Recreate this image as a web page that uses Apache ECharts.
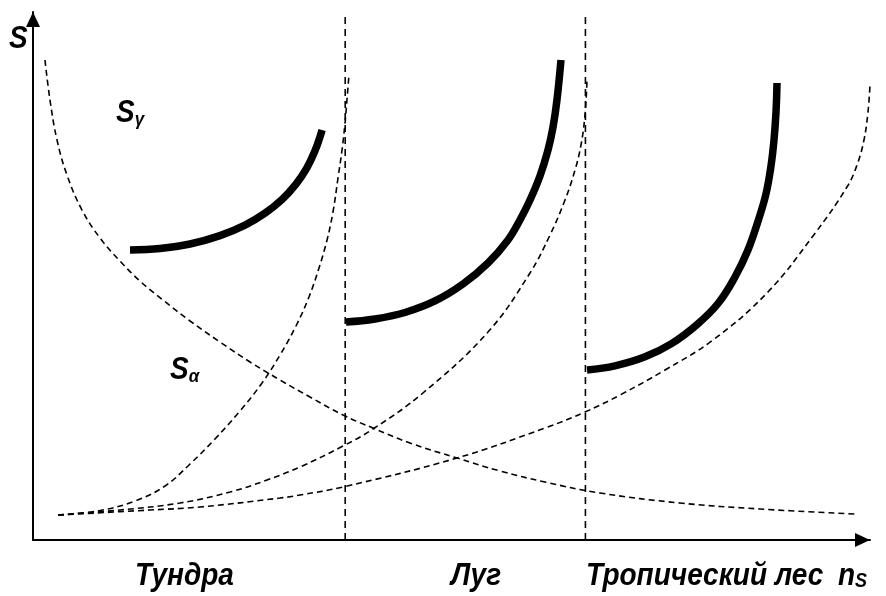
<!DOCTYPE html>
<html>
<head>
<meta charset="utf-8">
<script src="https://cdn.jsdelivr.net/npm/echarts@6/dist/echarts.min.js"></script>
<style>
  html, body { margin: 0; padding: 0; background: #fff; }
  #chart { width: 886px; height: 596px; }
</style>
</head>
<body>
<div id="chart"></div>
<script>
// Biome labels along the n_S axis and boundaries between the zones
const zoneNames = ['Тундра', 'Луг', 'Тропический лес'];
const zoneBounds = [37.3, 66.0];

// Alpha diversity (decreasing dashed curve)
const alphaCurve = [
  [1.43, 90.91], [2.03, 83.33], [2.87, 75.76], [4.06, 69.13], [5.85, 62.50],
  [8.00, 57.20], [10.39, 52.84], [12.78, 49.05], [15.53, 45.45], [18.76, 41.48],
  [22.34, 37.50], [25.93, 33.71], [29.51, 30.30], [33.09, 27.08], [37.04, 23.67],
  [40.62, 21.21], [45.04, 18.37], [50.66, 15.53], [55.79, 13.07], [61.17, 10.98],
  [67.74, 8.90], [77.30, 7.01], [86.86, 5.87], [98.21, 4.92]
];

// Rising dashed curves, one per zone
const risingTundra = [
  [2.99, 4.73], [8.00, 5.59], [12.19, 7.39], [15.77, 10.23], [18.76, 14.39],
  [21.74, 19.13], [24.73, 24.43], [27.36, 29.73], [29.51, 35.04], [31.42, 40.53],
  [32.97, 46.02], [34.17, 51.52], [35.13, 56.82], [35.84, 62.12], [36.44, 68.56],
  [36.92, 73.86], [37.28, 78.98], [37.51, 83.33], [37.75, 88.07]
];
const risingMeadow = [
  [2.99, 4.73], [10.39, 5.68], [17.56, 7.01], [23.54, 9.09], [27.96, 11.36],
  [31.90, 13.83], [37.04, 17.80], [40.62, 21.02], [46.59, 27.84], [54.36, 39.39],
  [59.38, 50.57], [61.77, 57.77], [63.56, 64.39], [64.76, 70.08], [65.47, 74.81],
  [65.95, 80.49], [66.19, 87.12]
];
const risingForest = [
  [2.99, 4.73], [13.98, 5.68], [19.95, 6.25], [29.51, 7.95], [31.90, 8.52],
  [37.04, 10.04], [50.66, 15.53], [61.17, 21.21], [65.95, 24.24], [70.13, 27.46],
  [75.51, 32.20], [81.24, 37.88], [87.69, 46.78], [93.19, 57.58], [97.25, 66.86],
  [98.45, 71.02], [99.28, 75.76], [99.76, 81.06], [100.0, 86.17]
];

// Gamma diversity (thick solid curves)
const gammaTundra = [
  [11.59, 54.92], [15.17, 55.21], [18.76, 56.06], [22.34, 57.65], [25.33, 59.64],
  [27.72, 61.91], [29.75, 64.49], [31.42, 67.40], [32.74, 70.53], [33.69, 73.71],
  [34.29, 76.36], [34.53, 77.65]
];
const gammaMeadow = [
  [37.40, 41.29], [40.86, 41.86], [44.44, 43.09], [48.03, 45.27], [51.37, 48.48],
  [54.36, 52.46], [56.75, 56.82], [58.18, 60.61], [59.38, 64.39], [60.57, 68.94],
  [61.53, 73.86], [62.13, 78.22], [62.60, 83.33], [63.08, 90.91]
];
const gammaForest = [
  [66.19, 32.20], [69.53, 32.99], [73.12, 34.70], [76.34, 37.25], [79.33, 40.80],
  [81.84, 44.79], [83.87, 49.81], [85.42, 54.92], [86.74, 60.98], [87.57, 65.53],
  [88.17, 70.83], [88.53, 75.76], [88.77, 81.06], [88.89, 86.55]
];

const FONT = '"Liberation Sans", Arial, sans-serif';
const dashed = { color: '#000', width: 1.6, type: [6, 4] };
const thick = { color: '#000', width: 7.5, cap: 'butt' };

function curve(data, style, smooth) {
  return {
    type: 'line', data: data, showSymbol: false, smooth: smooth,
    lineStyle: style, silent: true, clip: false
  };
}

const series = [
  curve(alphaCurve, dashed, 0.4),
  curve(risingTundra, dashed, 0.4),
  curve(risingMeadow, dashed, 0.4),
  curve(risingForest, dashed, 0.4),
  curve(gammaTundra, thick, 0.4),
  curve(gammaMeadow, thick, 0.4),
  curve(gammaForest, thick, 0.4)
];
zoneBounds.forEach(function (x) {
  series.push(curve([[x, 0], [x, 100]], { color: '#000', width: 1.6, type: [7, 5] }, false));
});

const axisLine = {
  show: true,
  symbol: ['none', 'triangle'],
  symbolSize: [14, 15],
  symbolOffset: [0, -7.5],
  lineStyle: { color: '#000', width: 2 }
};

// Bold italic captions, stretched slightly upward
function label(text, x, y, size) {
  return {
    type: 'text', x: x, y: y, scaleY: 1.12,
    style: { text: text, font: 'italic bold ' + size + 'px ' + FONT, fill: '#000' }
  };
}

function subLabel(main, sub, x, y, subSize) {
  return {
    type: 'text', x: x, y: y, scaleY: 1.1,
    style: {
      text: '{m|' + main + '}{s|' + sub + '}',
      fill: '#000',
      rich: {
        m: { font: 'italic bold 28px ' + FONT, lineHeight: 28 },
        s: { font: 'italic bold ' + subSize + 'px ' + FONT, lineHeight: 28, verticalAlign: 'bottom', padding: [8, 0, 0, 0] }
      }
    }
  };
}

const chart = echarts.init(document.getElementById('chart'));
chart.setOption({
  animation: false,
  backgroundColor: '#fff',
  grid: { left: 33, right: 16, top: 12, bottom: 56 },
  xAxis: {
    type: 'value', min: 0, max: 100,
    axisLine: axisLine, axisTick: { show: false },
    axisLabel: { show: false }, splitLine: { show: false }
  },
  yAxis: {
    type: 'value', min: 0, max: 100,
    axisLine: axisLine, axisTick: { show: false },
    axisLabel: { show: false }, splitLine: { show: false }
  },
  series: series,
  graphic: [
    label('S', 9, 24, 28),
    subLabel('S', 'γ', 116, 98, 17),
    subLabel('S', 'α', 170, 355, 17),
    label(zoneNames[0], 135, 561, 28),
    label(zoneNames[1], 451, 561, 28),
    label(zoneNames[2], 586, 561, 28),
    subLabel('n', 'S', 838, 561, 18)
  ]
});
</script>
</body>
</html>
